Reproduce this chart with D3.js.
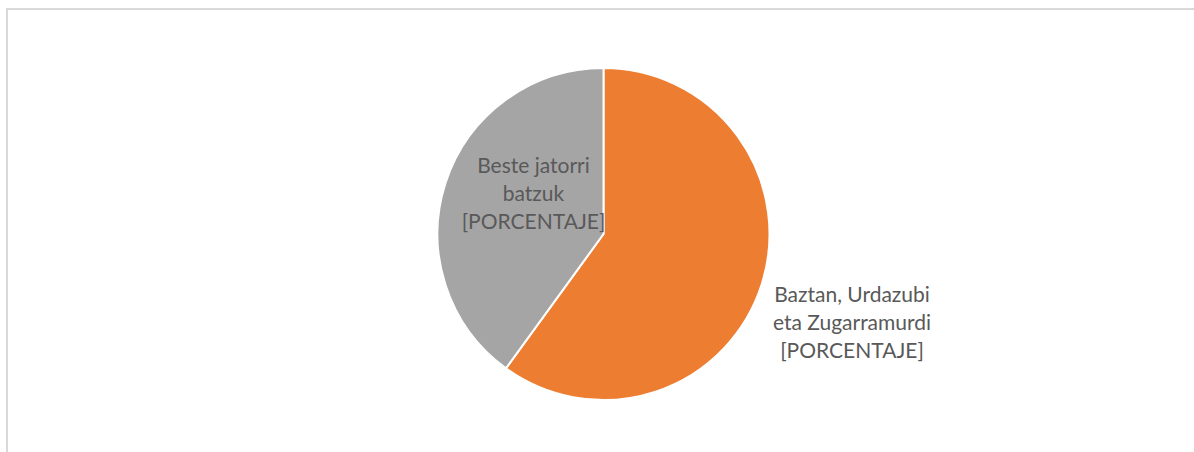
<!DOCTYPE html>
<html>
<head>
<meta charset="utf-8">
<script src="https://cdn.jsdelivr.net/npm/d3@7"></script>
<style>
  html, body { margin: 0; padding: 0; background: #fff; }
  svg { display: block; }
</style>
</head>
<body>
<svg id="chart"></svg>
<script>
// data
const categories = ["Baztan, Urdazubi eta Zugarramurdi", "Beste jatorri batzuk"];
const values = [60, 40];
const labelLines = [
  ["Baztan, Urdazubi", "eta Zugarramurdi", "[PORCENTAJE]"],
  ["Beste jatorri", "batzuk", "[PORCENTAJE]"]
];
const colors = ["#ED7D31", "#A5A5A5"];

const width = 1194, height = 452;
const cx = 603.5, cy = 234, radius = 166;

const svg = d3.select("#chart").attr("width", width).attr("height", height);

// chart frame (runs off right and bottom)
svg.append("rect")
  .attr("x", 7).attr("y", 9)
  .attr("width", width + 20).attr("height", height + 20)
  .attr("fill", "none")
  .attr("stroke", "#D9D9D9")
  .attr("stroke-width", 2);

const color = d3.scaleOrdinal().domain(categories).range(colors);

const pie = d3.pie().sort(null).value(d => d.value);
const arcs = pie(categories.map((c, i) => ({name: c, value: values[i], lines: labelLines[i]})));
const arc = d3.arc().innerRadius(0).outerRadius(radius);

const g = svg.append("g").attr("transform", "translate(" + cx + "," + cy + ")");

g.selectAll("path.slice")
  .data(arcs)
  .join("path")
  .attr("class", "slice")
  .attr("d", arc)
  .attr("fill", d => color(d.data.name))
  .attr("stroke", "#fff")
  .attr("stroke-width", 2)
  .attr("stroke-linejoin", "round");

// label anchors (offsets from pie centre, first baseline), excel "best fit" placement
const labelPos = [[248.5, 68], [-70, -61]];
const lineH = 27.8;

const labels = g.selectAll("text.lbl")
  .data(arcs)
  .join("text")
  .attr("class", "lbl")
  .attr("text-anchor", "middle")
  .attr("font-family", "Lato, 'Open Sans', sans-serif")
  .attr("font-size", 21)
  .attr("fill", "#595959")
  .attr("transform", (d, i) => "translate(" + labelPos[i][0] + "," + labelPos[i][1] + ")");

labels.selectAll("tspan")
  .data(d => d.data.lines)
  .join("tspan")
  .attr("x", 0)
  .attr("y", (t, j) => j * lineH)
  .text(t => t);
</script>
</body>
</html>
